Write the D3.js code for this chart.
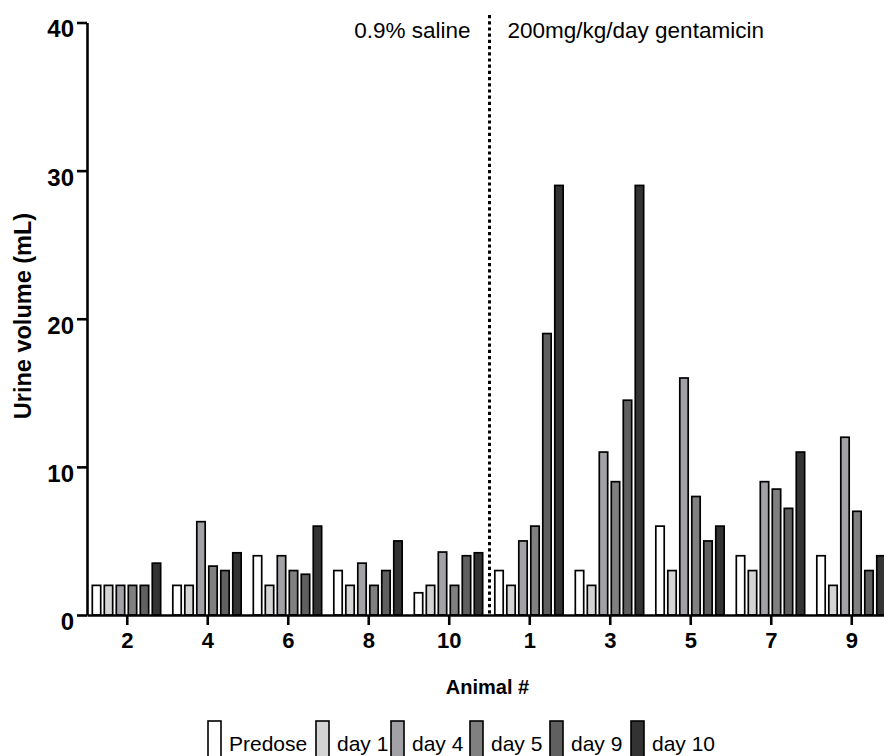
<!DOCTYPE html>
<html>
<head>
<meta charset="utf-8">
<script src="https://cdn.jsdelivr.net/npm/d3@7/dist/d3.min.js"></script>
<style>
  html, body { margin: 0; padding: 0; background: #fff; }
  svg { display: block; font-family: "Liberation Sans", Arial, Helvetica, sans-serif; }
</style>
</head>
<body>
<svg id="chart" width="884" height="756"></svg>
<script>
// Animal numbers, in plotted order (saline group first, then gentamicin group)
const animals = ["2", "4", "6", "8", "10", "1", "3", "5", "7", "9"];
const seriesNames = ["Predose", "day 1", "day 4", "day 5", "day 9", "day 10"];
const seriesFill = ["#ffffff", "#d4d4d4", "#a2a2a6", "#808080", "#606060", "#333333"];

// Urine volume (mL) per animal, one array per collection day
const predose = [2, 2, 4, 3, 1.5, 3, 3, 6, 4, 4];
const day1    = [2, 2, 2, 2, 2, 2, 2, 3, 3, 2];
const day4    = [2, 6.3, 4, 3.5, 4.25, 5, 11, 16, 9, 12];
const day5    = [2, 3.3, 3, 2, 2, 6, 9, 8, 8.5, 7];
const day9    = [2, 3, 2.75, 3, 4, 19, 14.5, 5, 7.2, 3];
const day10   = [3.5, 4.2, 6, 5, 4.2, 29, 29, 6, 11, 4];
const seriesValues = [predose, day1, day4, day5, day9, day10];

const yTicks = [0, 10, 20, 30, 40];
const groupLabels = ["0.9% saline", "200mg/kg/day gentamicin"];

const svg = d3.select("#chart");
const plotLeft = 87, plotRight = 892, plotTop = 22.5, plotBottom = 615;

const x0 = d3.scaleBand().domain(animals).range([plotLeft, plotRight]).paddingInner(0).paddingOuter(0);
const bw = x0.bandwidth();
const x1 = d3.scaleBand().domain(seriesNames)
  .range([bw * 0.066, bw * 0.915]).paddingInner(0.3).paddingOuter(0);
const y = d3.scaleLinear().domain([0, 40]).range([plotBottom, plotTop]);

// Bars
const rows = [];
animals.forEach((a, i) => {
  seriesNames.forEach((s, j) => rows.push({ animal: a, series: s, idx: j, value: seriesValues[j][i] }));
});
svg.append("g").selectAll("rect").data(rows).join("rect")
  .attr("x", d => x0(d.animal) + x1(d.series))
  .attr("y", d => y(d.value))
  .attr("width", x1.bandwidth())
  .attr("height", d => y(0) - y(d.value))
  .attr("fill", d => seriesFill[d.idx])
  .attr("stroke", "#000")
  .attr("stroke-width", 1.7);

// Dashed divider between the two treatment groups
const divX = x0("1");
svg.append("line")
  .attr("x1", divX).attr("x2", divX)
  .attr("y1", 15).attr("y2", plotBottom)
  .attr("stroke", "#000").attr("stroke-width", 3)
  .attr("stroke-dasharray", "3.2,3");

svg.append("text").attr("x", divX - 19).attr("y", 38)
  .attr("text-anchor", "end").attr("font-size", 22.5).text(groupLabels[0]);
svg.append("text").attr("x", divX + 18).attr("y", 38)
  .attr("text-anchor", "start").attr("font-size", 22.5).text(groupLabels[1]);

// Y axis
const yAxis = svg.append("g").attr("transform", `translate(${plotLeft},0)`)
  .call(d3.axisLeft(y).tickValues(yTicks).tickSize(10).tickSizeOuter(0).tickPadding(3));
yAxis.select(".domain").attr("stroke-width", 2.6);
yAxis.selectAll(".tick line").attr("stroke-width", 2.6);
yAxis.selectAll(".tick text").attr("font-size", 24).attr("font-weight", "bold")
  .attr("font-family", "Liberation Sans, Arial, sans-serif").attr("fill", "#000")
  .attr("dy", "0.6em");

// X axis
const xAxis = svg.append("g").attr("transform", `translate(0,${plotBottom})`)
  .call(d3.axisBottom(x0).tickSize(10).tickSizeOuter(0).tickPadding(7));
xAxis.select(".domain").attr("stroke-width", 2.6);
xAxis.selectAll(".tick line").attr("stroke-width", 2.6);
xAxis.selectAll(".tick text").attr("font-size", 22).attr("font-weight", "bold")
  .attr("font-family", "Liberation Sans, Arial, sans-serif").attr("fill", "#000");

// Axis titles
svg.append("text")
  .attr("transform", `translate(31,316) rotate(-90)`)
  .attr("text-anchor", "middle").attr("font-size", 23.5).attr("font-weight", "bold")
  .text("Urine volume (mL)");
svg.append("text").attr("x", (plotLeft + 884) / 2 + 2).attr("y", 694)
  .attr("text-anchor", "middle").attr("font-size", 20).attr("font-weight", "bold")
  .text("Animal #");

// Legend
const legendX = [208, 316, 391, 470, 550, 631];
const lg = svg.append("g");
seriesNames.forEach((s, j) => {
  lg.append("rect").attr("x", legendX[j]).attr("y", 721)
    .attr("width", 13).attr("height", 40)
    .attr("fill", seriesFill[j]).attr("stroke", "#000").attr("stroke-width", 1.6);
  lg.append("text").attr("x", legendX[j] + 21).attr("y", 751)
    .attr("font-size", 21).text(s);
});
</script>
</body>
</html>
